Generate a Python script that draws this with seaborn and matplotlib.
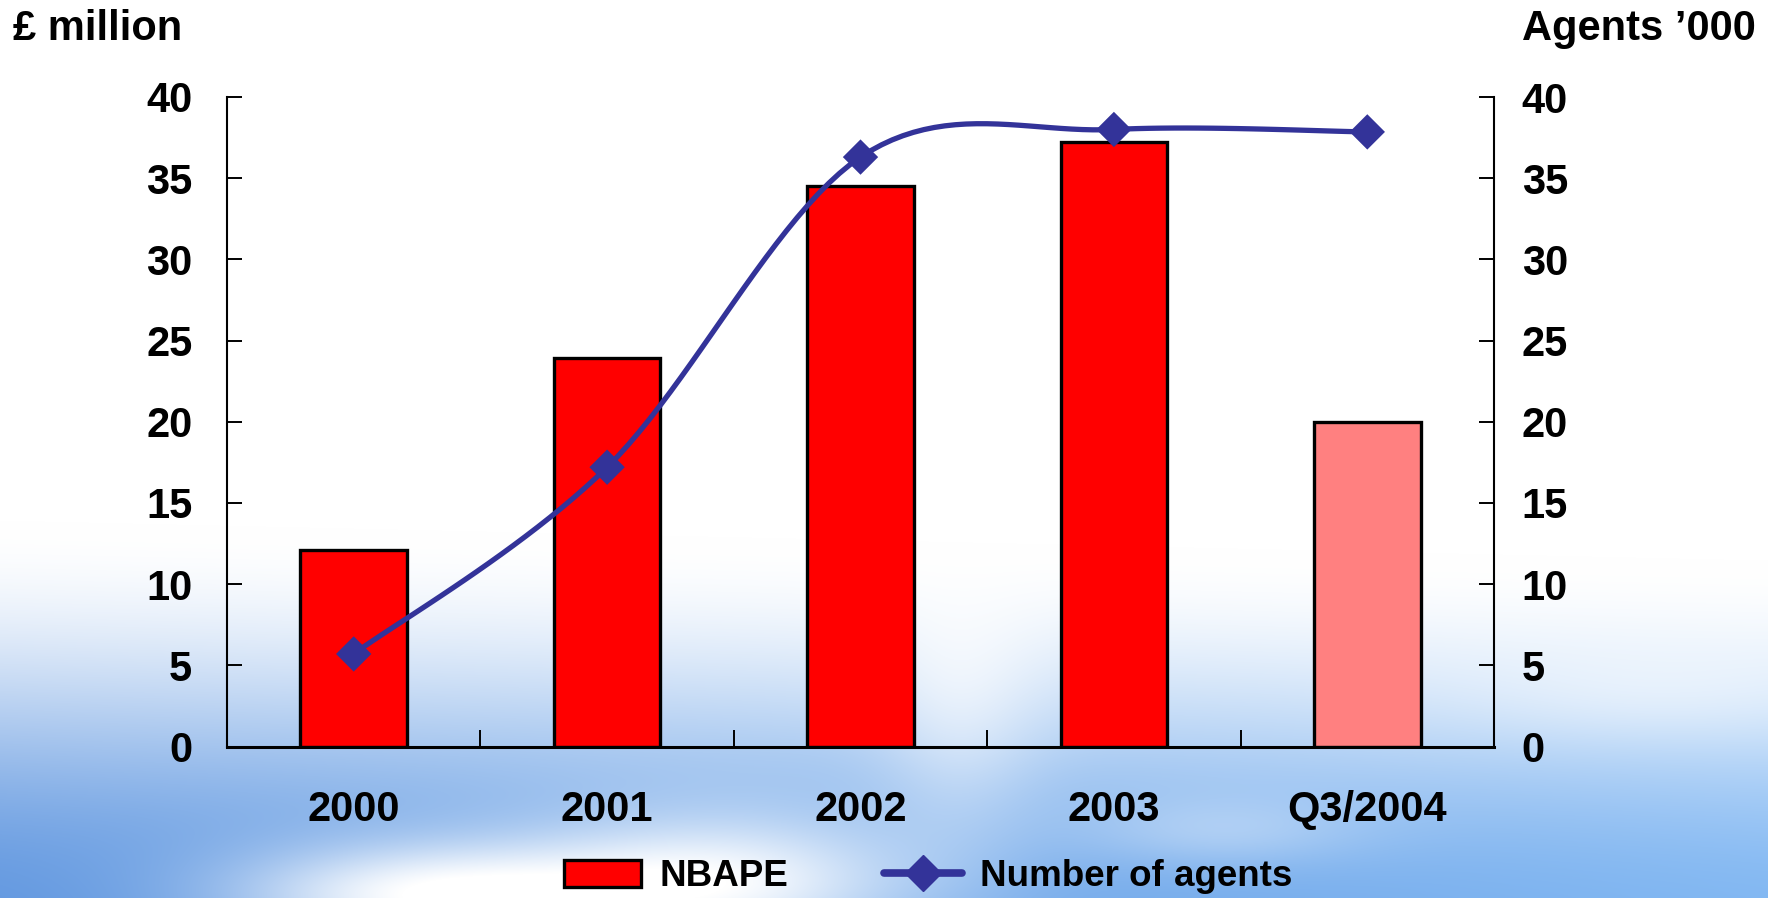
import numpy as np
import pandas as pd
import matplotlib
matplotlib.use("Agg")
import matplotlib.pyplot as plt
import seaborn as sns
from matplotlib.patches import Patch
from matplotlib.lines import Line2D
from matplotlib.ticker import FixedLocator

# ---- data ----
periods = ["2000", "2001", "2002", "2003", "Q3/2004"]
nbape = [12.1, 23.9, 34.5, 37.2, 20.0]          # £ million
agents = [5.7, 17.2, 36.3, 38.0, 37.85]          # agents '000
bar_colors = ["#FF0000", "#FF0000", "#FF0000", "#FF0000", "#FF8080"]
line_color = "#333399"

sns.set_theme(style="white")
plt.rcParams["font.family"] = ["Liberation Sans", "DejaVu Sans"]
plt.rcParams["font.weight"] = "bold"
plt.rcParams["text.color"] = "black"
plt.rcParams["xtick.color"] = "black"
plt.rcParams["ytick.color"] = "black"
plt.rcParams["axes.labelcolor"] = "black"

W, H = 1768, 898
fig = plt.figure(figsize=(W / 100, H / 100), dpi=100)

# ---- sky backdrop ----
yy, xx = np.mgrid[0:H, 0:W].astype(float)
u = xx / W
sky = np.stack([0.39 + 0.12 * u, 0.60 + 0.12 * u, 0.88 + 0.07 * u], axis=-1)
start = 520 + 40 * u
t = np.clip((yy - start) / (H - start + 20), 0, 1)
t = t * t * (3 - 2 * t)
base = 1 - t[..., None] * (1 - sky)


def blob(cx, cy, sx, sy, a):
    return a * np.exp(-(((xx - cx) / sx) ** 2 + ((yy - cy) / sy) ** 2))


cloud = (blob(430, 895, 200, 55, 0.95) + blob(720, 880, 200, 70, 0.9)
         + blob(960, 660, 80, 150, 0.6) + blob(1220, 830, 140, 35, 0.3)
         + blob(1650, 690, 200, 50, 0.35))
cloud = np.clip(cloud, 0, 1)[..., None]
bg = base + cloud * (1 - base)
bg_ax = fig.add_axes([0, 0, 1, 1], zorder=-10)
bg_ax.imshow(bg, aspect="auto", extent=[0, 1, 0, 1])
bg_ax.axis("off")

# ---- main axes ----
ax = fig.add_axes([227 / W, 1 - 746.5 / H, (1494 - 227) / W, (746.5 - 97) / H])
ax.patch.set_alpha(0)
df = pd.DataFrame({"period": periods, "nbape": nbape})
sns.barplot(data=df, x="period", y="nbape", hue="period", palette=bar_colors,
            legend=False, width=0.42, edgecolor="black", linewidth=2.4,
            saturation=1, ax=ax, zorder=2)
ax.set_xlim(-0.5, 4.5)
ax.set_ylim(0, 40)
ax.set_xlabel("")
ax.set_ylabel("")
ax.set_yticks(range(0, 41, 5))
ax.xaxis.set_minor_locator(FixedLocator([0.5, 1.5, 2.5, 3.5]))
ax.tick_params(axis="x", which="major", length=0, pad=31, labelsize=30,
               labelcolor="black")
ax.tick_params(axis="x", which="minor", direction="in", length=12, width=1.4,
               color="black", bottom=True)
ax.tick_params(axis="y", direction="in", length=11, width=1.4, color="black",
               pad=25, labelsize=30, left=True, labelcolor="black")
for lab in ax.get_xticklabels() + ax.get_yticklabels():
    lab.set_fontweight("bold")
for side in ["left", "right", "bottom"]:
    ax.spines[side].set_visible(True)
    ax.spines[side].set_color("black")
    ax.spines[side].set_linewidth(1.5)
ax.spines["bottom"].set_linewidth(2.2)
ax.spines["top"].set_visible(False)

# ---- agents on the secondary axis, smoothed line ----
ax2 = ax.twinx()
ax2.set_ylim(0, 40)
ax2.set_yticks(range(0, 41, 5))
ax2.tick_params(axis="y", direction="in", length=11, width=1.4, color="black",
                pad=20, labelsize=30, right=True, labelcolor="black")
for lab in ax2.get_yticklabels():
    lab.set_fontweight("bold")
for side in ax2.spines:
    ax2.spines[side].set_visible(False)


def smooth_curve(xv, yv, n=24):
    p = np.column_stack([xv, yv]).astype(float)
    out = []
    for i in range(len(p) - 1):
        p0 = p[i - 1] if i > 0 else p[i]
        p1, p2 = p[i], p[i + 1]
        p3 = p[i + 2] if i + 2 < len(p) else p[i + 1]
        c1 = p1 + (p2 - p0) / 6
        c2 = p2 - (p3 - p1) / 6
        s = np.linspace(0, 1, n, endpoint=(i == len(p) - 2))[:, None]
        out.append((1 - s) ** 3 * p1 + 3 * (1 - s) ** 2 * s * c1
                   + 3 * (1 - s) * s ** 2 * c2 + s ** 3 * p2)
    return np.vstack(out)


xpos = np.arange(len(periods))
curve = smooth_curve(xpos, agents)
sns.lineplot(x=curve[:, 0], y=curve[:, 1], sort=False, color=line_color,
             linewidth=3.8, ax=ax2, zorder=3)
sns.scatterplot(x=xpos, y=agents, marker="D", s=18 ** 2, color=line_color,
                edgecolor="none", ax=ax2, zorder=4)
ax2.set_xlim(-0.5, 4.5)

# ---- axis unit labels ----
fig.text(13 / W, 1 - 40 / H, "£ million", fontsize=30, fontweight="bold",
         ha="left", va="baseline", color="black")
fig.text(1522 / W, 1 - 40 / H, "Agents \u2019000", fontsize=30, fontweight="bold",
         ha="left", va="baseline", color="black")

# ---- legend ----
handles = [
    Patch(facecolor="#FF0000", edgecolor="black", linewidth=2.4, label="NBAPE"),
    Line2D([0], [0], color=line_color, linewidth=5.5, marker="D", markersize=18,
           markeredgecolor=line_color, label="Number of agents"),
]
leg = fig.legend(handles=handles, loc="center", bbox_to_anchor=(0.525, 0.024),
                 ncol=2, frameon=False, fontsize=26.5, handlelength=2.1,
                 handleheight=0.75, handletextpad=0.5, columnspacing=2.6,
                 borderpad=0)
for txt in leg.get_texts():
    txt.set_fontweight("bold")
    txt.set_color("black")

fig.savefig("out.png", dpi=100)
